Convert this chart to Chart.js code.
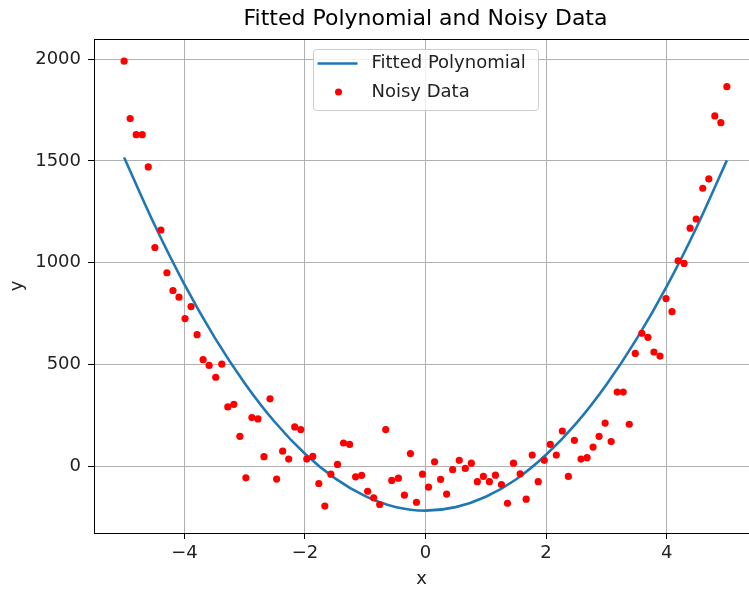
<!DOCTYPE html>
<html>
<head>
<meta charset="utf-8">
<script src="https://cdn.jsdelivr.net/npm/chart.js@4.4.1/dist/chart.umd.min.js"></script>
<style>
  html, body { margin: 0; padding: 0; background: #fff; }
  canvas { display: block; }
</style>
</head>
<body>
<canvas id="grafico" width="749" height="590"></canvas>
<script>
// noisy samples
const dataX = [
  -5.00, -4.90, -4.80, -4.70, -4.60, -4.49, -4.39, -4.29, -4.19, -4.09,
  -3.99, -3.89, -3.79, -3.69, -3.59, -3.48, -3.38, -3.28, -3.18, -3.08,
  -2.98, -2.88, -2.78, -2.68, -2.58, -2.47, -2.37, -2.27, -2.17, -2.07,
  -1.97, -1.87, -1.77, -1.67, -1.57, -1.46, -1.36, -1.26, -1.16, -1.06,
  -0.96, -0.86, -0.76, -0.66, -0.56, -0.45, -0.35, -0.25, -0.15, -0.05,
  0.05, 0.15, 0.25, 0.35, 0.45, 0.56, 0.66, 0.76, 0.86, 0.96,
  1.06, 1.16, 1.26, 1.36, 1.46, 1.57, 1.67, 1.77, 1.87, 1.97,
  2.07, 2.17, 2.27, 2.37, 2.47, 2.58, 2.68, 2.78, 2.88, 2.98,
  3.08, 3.18, 3.28, 3.38, 3.48, 3.59, 3.69, 3.79, 3.89, 3.99,
  4.09, 4.19, 4.29, 4.39, 4.49, 4.60, 4.70, 4.80, 4.90, 5.00
];
const dataY = [
  1990, 1708, 1629, 1629, 1471, 1075, 1161, 951, 864, 831,
  726, 785, 647, 524, 496, 438, 502, 292, 305, 148,
  -56, 240, 233, 48, 332, -62, 75, 36, 194, 181,
  36, 49, -84, -195, -38, 10, 115, 108, -51, -44,
  -122, -154, -187, 181, -69, -58, -141, 63, -176, -38,
  -102, 23, -64, -136, -16, 30, -10, 16, -75, -49,
  -75, -43, -89, -181, 16, -36, -161, 56, -75, 30,
  108, 56, 174, -49, 128, 36, 43, 95, 148, 213,
  122, 365, 365, 207, 555, 654, 634, 562, 542, 824,
  760, 1010, 997, 1170, 1215, 1366, 1412, 1721, 1688, 1865
];

// fitted curve, read at every half unit
const curveX = [-5, -4.5, -4, -3.5, -3, -2.5, -2, -1.5, -1, -0.5, 0,
                0.5, 1, 1.5, 2, 2.5, 3, 3.5, 4, 4.5, 5];
const curveY = [1517, 1189, 894, 634, 409, 218, 62, -59, -146, -199, -217,
                -200, -149, -64, 57, 211, 401, 625, 883, 1176, 1503];

const xTicks = [-4, -2, 0, 2, 4];
const yTicks = [0, 500, 1000, 1500, 2000];

const titulo = "Fitted Polynomial and Noisy Data";
const FONT = "'DejaVu Sans', sans-serif";

// top spine (the right one falls outside the picture) and the title,
// centred over the whole axes like matplotlib does
const moldura = {
  id: "moldura",
  afterDatasetsDraw(chart) {
    const { ctx, chartArea: a } = chart;
    ctx.save();
    ctx.strokeStyle = "#000";
    ctx.lineWidth = 1;
    ctx.beginPath();
    ctx.moveTo(a.left, a.top + 0.5);
    ctx.lineTo(a.right, a.top + 0.5);
    ctx.stroke();
    ctx.restore();
  },
  afterDraw(chart) {
    const ctx = chart.ctx;
    const xs = chart.scales.x;
    const meio = (xs.getPixelForValue(-5.5) + xs.getPixelForValue(5.5)) / 2;
    ctx.save();
    ctx.fillStyle = "#000";
    ctx.font = "22px " + FONT;
    ctx.textAlign = "center";
    ctx.textBaseline = "middle";
    ctx.fillText(titulo, meio, 19);
    ctx.restore();
  },
};

// matplotlib style legend box
const legenda = {
  id: "legenda",
  afterDraw(chart) {
    const ctx = chart.ctx;
    const ds = chart.data.datasets;
    const x0 = 313.5, y0 = 49.5, w = 225, h = 61;
    ctx.save();
    ctx.beginPath();
    ctx.roundRect(x0, y0, w, h, 3);
    ctx.fillStyle = "rgba(255,255,255,0.8)";
    ctx.fill();
    ctx.strokeStyle = "#cccccc";
    ctx.lineWidth = 1;
    ctx.stroke();

    ctx.beginPath();
    ctx.moveTo(x0 + 4, y0 + 14);
    ctx.lineTo(x0 + 44, y0 + 14);
    ctx.strokeStyle = ds[0].borderColor;
    ctx.lineWidth = ds[0].borderWidth;
    ctx.stroke();

    ctx.beginPath();
    ctx.arc(x0 + 25, y0 + 42.5, 3.5, 0, Math.PI * 2);
    ctx.fillStyle = ds[1].backgroundColor;
    ctx.fill();

    ctx.fillStyle = "#222";
    ctx.font = "18px " + FONT;
    ctx.textBaseline = "middle";
    ctx.textAlign = "left";
    ctx.fillText(ds[0].label, x0 + 58, y0 + 14);
    ctx.fillText(ds[1].label, x0 + 58, y0 + 42.5);
    ctx.restore();
  },
};

const ctx = document.getElementById("grafico").getContext("2d");

let grafico = new Chart(ctx, {
  type: "scatter",
  data: {
    datasets: [
      {
        type: "line",
        label: "Fitted Polynomial",
        data: curveX.map((x, i) => ({ x: x, y: curveY[i] })),
        borderColor: "#1f77b4",
        borderWidth: 2.6,
        pointRadius: 0,
        cubicInterpolationMode: "monotone",
        fill: false,
        order: 2,
      },
      {
        label: "Noisy Data",
        data: dataX.map((x, i) => ({ x: x, y: dataY[i] })),
        backgroundColor: "#ff0000",
        borderWidth: 0,
        pointRadius: 3.6,
        order: 1,
      },
    ],
  },
  options: {
    responsive: false,
    animation: false,
    devicePixelRatio: 1,
    layout: { autoPadding: false, padding: { top: 39, right: 0, left: 0, bottom: 0 } },
    plugins: {
      legend: { display: false },
      tooltip: { enabled: false },
      title: { display: false },
    },
    scales: {
      x: {
        type: "linear",
        min: -5.5,
        max: 5.367,
        afterBuildTicks: (s) => { s.ticks = xTicks.map((v) => ({ value: v })); },
        afterFit: (s) => {
          s.height = 57;
          s.paddingLeft = 0;
          s.paddingRight = 0;
        },
        grid: { color: "#b0b0b0", lineWidth: 1, tickColor: "#000", tickLength: 6 },
        border: { color: "#000", width: 1 },
        ticks: {
          color: "#222",
          font: { family: FONT, size: 18 },
          padding: 4,
          maxRotation: 0,
          callback: (v) => String(v).replace("-", "\u2212"),
        },
        title: {
          display: true,
          text: "x",
          color: "#222",
          font: { family: FONT, size: 18 },
          padding: { top: 0, bottom: 0 },
        },
      },
      y: {
        type: "linear",
        min: -327,
        max: 2099,
        afterBuildTicks: (s) => { s.ticks = yTicks.map((v) => ({ value: v })); },
        afterFit: (s) => {
          s.width = 94;
          s.paddingTop = 0;
          s.paddingBottom = 0;
        },
        grid: { color: "#b0b0b0", lineWidth: 1, tickColor: "#000", tickLength: 6 },
        border: { color: "#000", width: 1 },
        ticks: {
          color: "#222",
          font: { family: FONT, size: 18 },
          padding: 7,
          callback: (v) => String(v),
        },
        title: {
          display: true,
          text: "y",
          color: "#222",
          font: { family: FONT, size: 18 },
          padding: { top: 7, bottom: 0 },
        },
      },
    },
  },
  plugins: [moldura, legenda],
});
</script>
</body>
</html>
